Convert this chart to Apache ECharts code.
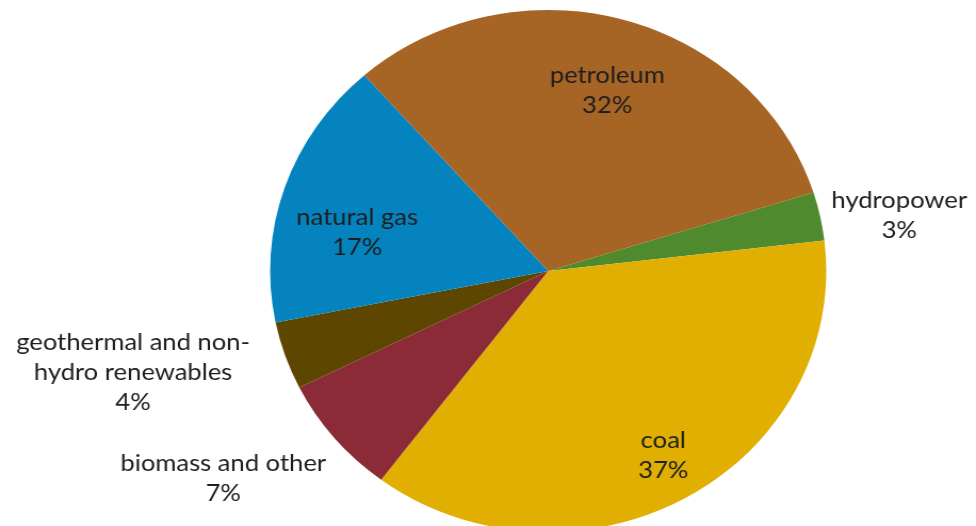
<!DOCTYPE html>
<html>
<head>
<meta charset="utf-8">
<title>Energy sources</title>
<script src="https://cdn.jsdelivr.net/npm/echarts@6/dist/echarts.min.js"></script>
<style>
    html, body { margin: 0; padding: 0; background: #fff; overflow: hidden; }
    /* the source picture is stretched sideways, so the pie is an ellipse */
    #chart { width: 916px; height: 526px; transform: scaleX(1.0655); transform-origin: 0 0; }
</style>
</head>
<body>
<div id="chart"></div>
<script>
const categories = ['hydropower', 'coal', 'biomass and other', 'geothermal and non-\nhydro renewables', 'natural gas', 'petroleum'];
const shares = [3.0, 37.2, 7.4, 4.2, 16.7, 31.7];
const colors = ['#4f8a2e', '#e0af02', '#8b2b38', '#5c4600', '#0583be', '#a66425'];

/*pie*/
(function () {
    const el = document.getElementById('chart');
    const chart = echarts.init(el);
    const center = [514.5, 271];
    const radius = 261;
    // label anchors as offsets from the pie centre
    const labelOffsets = [[329.5, -56], [108, 184], [-305, 207], [-389.6, 101], [-179.3, -39], [55.4, -181]];

    const option = {
        animation: false,
        series: [{
            type: 'pie',
            center: center,
            radius: radius,
            startAngle: 17.5,
            clockwise: true,
            percentPrecision: 0,
            avoidLabelOverlap: false,
            itemStyle: {borderWidth: 0},
            label: {
                show: true,
                position: 'outside',
                formatter: '{b}\n{d}%',
                fontFamily: 'Lato',
                fontSize: 24,
                lineHeight: 30,
                color: '#1e1e1e'
            },
            labelLine: {show: false},
            labelLayout: function (params) {
                const off = labelOffsets[params.dataIndex];

                return {
                    x: center[0] + off[0],
                    y: center[1] + off[1],
                    align: 'center',
                    verticalAlign: 'middle'
                };
            },
            emphasis: {disabled: true},
            data: categories.map(function (name, i) {
                return {name: name, value: shares[i], itemStyle: {color: colors[i]}};
            })
        }]
    };

    chart.setOption(option);
})();
</script>
</body>
</html>
